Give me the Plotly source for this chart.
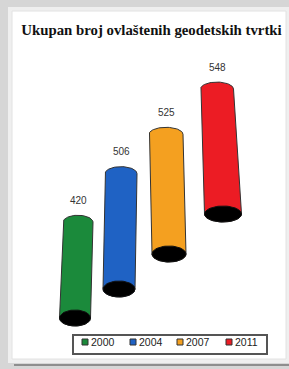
import numpy as np
import plotly.graph_objects as go

# ---- data ----
years = ["2000", "2004", "2007", "2011"]
counts = [420, 506, 525, 548]
colors = ["#1b8a3b", "#1f62c4", "#f4a020", "#ec1c24"]
title_text = "Ukupan broj ovlaštenih geodetskih tvrtki"

# ---- layout parameters (pixels) ----
W, H = 289, 369
S = 0.228                      # pixels per value unit on the y axis
base_px = [318, 289, 254, 214]  # 3D depth offset of each cylinder bottom
bottom_x = [75, 119, 169, 223]
top_x = [78, 121, 166, 217]
w_bottom = [31, 32, 34, 37]
w_top = [30, 32, 34, 33]
RY_TOP, RY_BOT = 7, 8
legend_sq_x = [85, 133, 180, 229]


def val(py):
    return (H - py) / S


def px(x):
    return x / W


def py(y):
    return 1 - y / H


fig = go.Figure()

for i, (yr, c, col) in enumerate(zip(years, counts, colors)):
    b = val(base_px[i])
    t = b + c
    bx, tx = bottom_x[i], top_x[i]
    rxb, rxt = w_bottom[i] / 2, w_top[i] / 2
    ryt, ryb = RY_TOP / S, RY_BOT / S
    th_top = np.linspace(np.pi, 0, 40)
    th_bot = np.linspace(0, -np.pi, 40)
    xs = [bx - rxb] + list(tx + rxt * np.cos(th_top)) + list(bx + rxb * np.cos(th_bot))
    ys = [b] + list(t + ryt * np.sin(th_top)) + list(b + ryb * np.sin(th_bot))
    fig.add_trace(go.Scatter(x=xs, y=ys, fill="toself", fillcolor=col, mode="lines",
                             line=dict(color="#333333", width=1), hoverinfo="skip",
                             showlegend=False, name=yr))
    th = np.linspace(0, 2 * np.pi, 60)
    fig.add_trace(go.Scatter(x=list(bx + rxb * np.cos(th)), y=list(b + ryb * np.sin(th)),
                             fill="toself", fillcolor="#000000", mode="lines",
                             line=dict(color="#111111", width=1), hoverinfo="skip",
                             showlegend=False))
    fig.add_annotation(x=tx, y=t, text=str(c), showarrow=False, yshift=RY_TOP + 15,
                       yanchor="middle", font=dict(family="Liberation Sans", size=10, color="#333333"))

shapes = [
    dict(type="rect", xref="paper", yref="paper", x0=px(8), x1=px(289), y0=py(363), y1=py(7),
         fillcolor="#efefef", line=dict(width=0), layer="below"),
    dict(type="rect", xref="paper", yref="paper", x0=px(12), x1=px(286), y0=py(359), y1=py(11),
         fillcolor="#ffffff", line=dict(color="#e2e2e2", width=1), layer="below"),
    dict(type="line", xref="paper", yref="paper", x0=px(14), x1=px(289), y0=py(365), y1=py(365),
         line=dict(color="#8e8e8e", width=2), layer="below"),
    # legend box
    dict(type="rect", xref="paper", yref="paper", x0=px(73), x1=px(267), y0=py(354), y1=py(335),
         fillcolor="#ffffff", line=dict(color="#555555", width=2)),
]
for i, (yr, col) in enumerate(zip(years, colors)):
    sx = legend_sq_x[i]
    shapes.append(dict(type="rect", xref="paper", yref="paper", x0=px(sx - 3), x1=px(sx + 3),
                       y0=py(345), y1=py(339), fillcolor=col, line=dict(color="#333333", width=1)))
    fig.add_annotation(xref="paper", yref="paper", x=px(sx + 4), y=py(342), text=yr,
                       showarrow=False, xanchor="left", yanchor="middle",
                       font=dict(family="Liberation Sans", size=10.5, color="#222222"))

fig.update_layout(
    width=W, height=H,
    margin=dict(l=0, r=0, t=0, b=0),
    paper_bgcolor="#d6d6d6",
    plot_bgcolor="rgba(0,0,0,0)",
    shapes=shapes,
    showlegend=False,
    title=dict(text=title_text, x=151.5 / W, xanchor="center", y=1 - 30 / H, yanchor="middle",
               yref="container",
               font=dict(family="Liberation Serif", size=14.8, color="#111111", weight="bold")),
    xaxis=dict(range=[0, W], visible=False, fixedrange=True),
    yaxis=dict(range=[0, H / S], visible=False, fixedrange=True),
)

fig.write_html("out.html", config={"displayModeBar": False},
               post_script="document.body.style.margin='0';document.body.style.overflow='hidden';")
